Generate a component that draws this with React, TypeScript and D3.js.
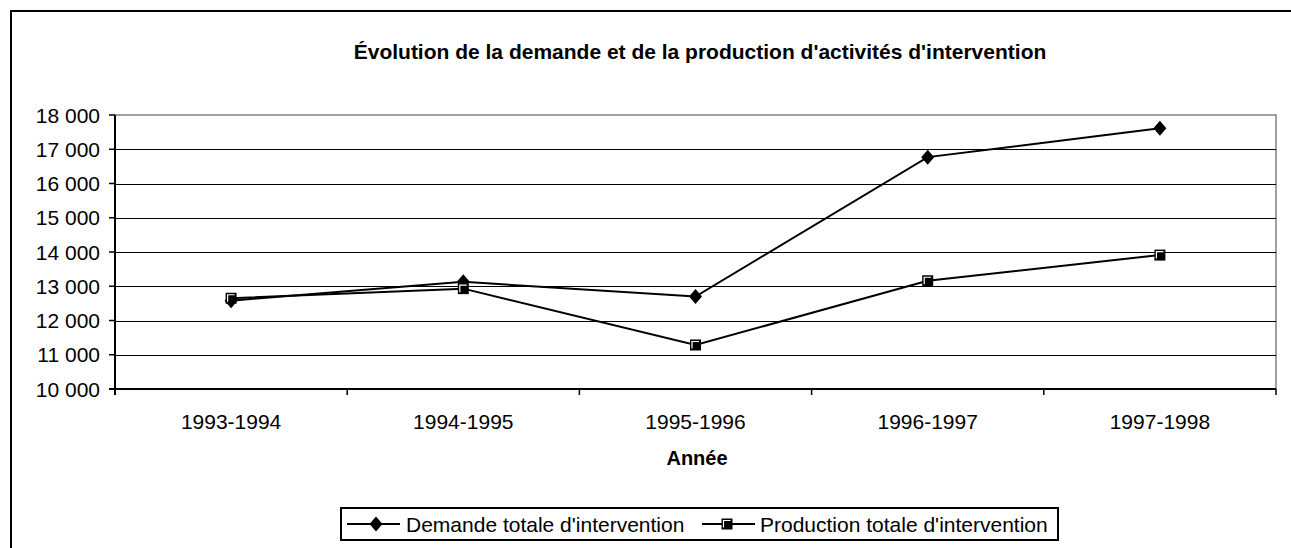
import React from "react";
import * as d3 from "d3";

const categories = ["1993-1994", "1994-1995", "1995-1996", "1996-1997", "1997-1998"];
const demande = [12580, 13130, 12700, 16770, 17610];
const production = [12650, 12930, 11285, 13160, 13910];
const yTicks = [10000, 11000, 12000, 13000, 14000, 15000, 16000, 17000, 18000];
const seriesNames = ["Demande totale d'intervention", "Production totale d'intervention"];
const chartTitle = "Évolution de la demande et de la production d'activités d'intervention";
const xTitle = "Année";

const W = 1291;
const H = 548;
const font = "'Liberation Sans', Arial, sans-serif";

function Diamond({ x, y }: { x: number; y: number }) {
  return <path d={`M${x},${y - 7.5}L${x + 6.5},${y}L${x},${y + 7.5}L${x - 6.5},${y}Z`} fill="#000" />;
}
function Square({ x, y }: { x: number; y: number }) {
  return (
    <g>
      <rect x={x - 5.5} y={y - 5.5} width={11} height={11} fill="#000" />
      <path d={`M${x - 3.5},${y + 3.5}V${y - 3.5}H${x + 3.5}`} stroke="#fff" strokeWidth={1.2} fill="none" />
    </g>
  );
}

export default function App() {
  const left = 115, right = 1276, top = 115, bottom = 389;
  const x = d3.scaleBand<string>().domain(categories).range([left, right]);
  const y = d3.scaleLinear().domain([10000, 18000]).range([bottom, top]);
  const cx = (c: string) => (x(c) as number) + x.bandwidth() / 2;
  const line = d3.line<number>().x((_, i) => cx(categories[i])).y((d) => y(d));
  const fmt = (v: number) => d3.format(",")(v).replace(/,/g, " ");
  const bounds = categories.map((c) => x(c) as number).concat([right]);

  return (
    <svg width={W} height={H} style={{ position: "absolute", left: 0, top: 0, background: "#fff" }} fontFamily={font}>
      <rect x={0} y={0} width={W} height={H} fill="#fff" />
      <path d={`M11,${H + 5}V11H${W + 5}`} stroke="#000" strokeWidth={2} fill="none" />
      <text x={700} y={59} textAnchor="middle" fontSize={21} fontWeight="bold">{chartTitle}</text>
      {/* plot border */}
      <rect x={left} y={top} width={right - left} height={bottom - top} fill="none" stroke="#808080" strokeWidth={1.5} />
      {yTicks.slice(1, -1).map((t) => (
        <line key={t} x1={left} x2={right} y1={Math.round(y(t)) + 0.5} y2={Math.round(y(t)) + 0.5} stroke="#000" strokeWidth={1} />
      ))}
      {/* axes */}
      <line x1={left} x2={left} y1={top} y2={bottom + 6} stroke="#000" strokeWidth={2} />
      <line x1={left - 6} x2={right} y1={bottom} y2={bottom} stroke="#000" strokeWidth={2} />
      {yTicks.map((t) => (
        <g key={t}>
          <line x1={left - 6} x2={left} y1={y(t)} y2={y(t)} stroke="#000" strokeWidth={1.5} />
          <text x={100} y={y(t)} dy="0.36em" textAnchor="end" fontSize={21}>{fmt(t)}</text>
        </g>
      ))}
      {bounds.map((b, i) => (
        <line key={i} x1={b} x2={b} y1={bottom} y2={bottom + 6} stroke="#000" strokeWidth={1.5} />
      ))}
      {categories.map((c) => (
        <text key={c} x={cx(c)} y={bottom + 40} textAnchor="middle" fontSize={21}>{c}</text>
      ))}
      <text x={697} y={465} textAnchor="middle" fontSize={20} fontWeight="bold">{xTitle}</text>
      {/* series */}
      <path d={line(demande) as string} fill="none" stroke="#000" strokeWidth={2} />
      <path d={line(production) as string} fill="none" stroke="#000" strokeWidth={2} />
      {demande.map((v, i) => <Diamond key={i} x={cx(categories[i])} y={y(v)} />)}
      {production.map((v, i) => <Square key={i} x={cx(categories[i])} y={y(v)} />)}
      {/* legend */}
      <rect x={341} y={508} width={717} height={32} fill="#fff" stroke="#000" strokeWidth={2} />
      <line x1={347} x2={400} y1={524} y2={524} stroke="#000" strokeWidth={2} />
      <Diamond x={376} y={524} />
      <text x={406} y={524} dy="0.36em" fontSize={21}>{seriesNames[0]}</text>
      <line x1={702} x2={755} y1={524} y2={524} stroke="#000" strokeWidth={2} />
      <Square x={727} y={524} />
      <text x={760} y={524} dy="0.36em" fontSize={21}>{seriesNames[1]}</text>
    </svg>
  );
}
